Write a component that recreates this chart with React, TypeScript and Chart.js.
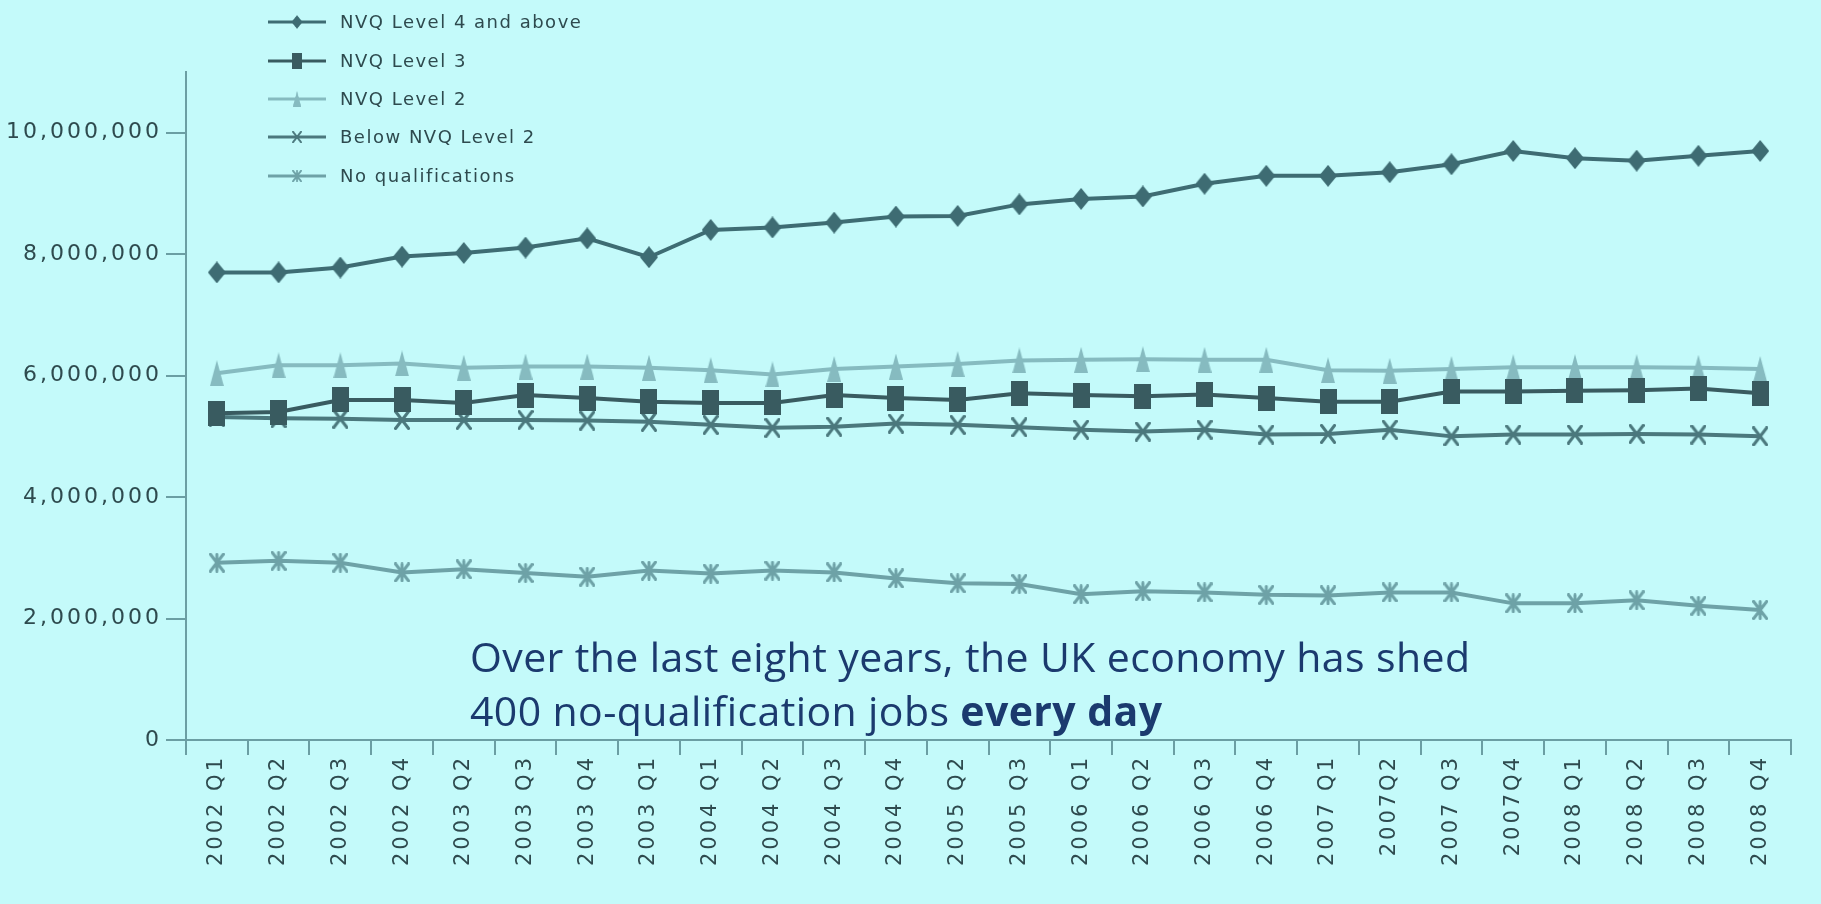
import React, { useEffect, useRef } from 'react';
import { Chart, registerables } from 'chart.js';

Chart.register(...registerables);

const quarters = [
  '2002 Q1', '2002 Q2', '2002 Q3', '2002 Q4', '2003 Q2', '2003 Q3', '2003 Q4', '2003 Q1',
  '2004 Q1', '2004 Q2', '2004 Q3', '2004 Q4', '2005 Q2', '2005 Q3', '2006 Q1', '2006 Q2',
  '2006 Q3', '2006 Q4', '2007 Q1', '2007Q2', '2007 Q3', '2007Q4', '2008 Q1', '2008 Q2',
  '2008 Q3', '2008 Q4',
];

const level4AndAbove = [
  7700000, 7700000, 7780000, 7960000, 8020000, 8110000, 8260000, 7950000, 8400000, 8440000,
  8520000, 8620000, 8630000, 8820000, 8910000, 8950000, 9160000, 9290000, 9290000, 9350000,
  9480000, 9700000, 9580000, 9540000, 9620000, 9700000,
];
const level3 = [
  5380000, 5400000, 5600000, 5600000, 5550000, 5680000, 5630000, 5570000, 5550000, 5550000,
  5680000, 5630000, 5600000, 5710000, 5680000, 5660000, 5690000, 5630000, 5570000, 5570000,
  5740000, 5740000, 5750000, 5760000, 5790000, 5710000,
];
const level2 = [
  6040000, 6170000, 6170000, 6200000, 6130000, 6150000, 6150000, 6130000, 6090000, 6020000,
  6110000, 6150000, 6190000, 6250000, 6260000, 6270000, 6260000, 6260000, 6090000, 6080000,
  6110000, 6140000, 6140000, 6140000, 6130000, 6110000,
];
const belowLevel2 = [
  5320000, 5300000, 5290000, 5270000, 5270000, 5270000, 5260000, 5240000, 5190000, 5140000,
  5160000, 5210000, 5190000, 5150000, 5110000, 5080000, 5110000, 5030000, 5040000, 5110000,
  5000000, 5030000, 5030000, 5040000, 5030000, 5000000,
];
const noQualifications = [
  2920000, 2950000, 2920000, 2760000, 2810000, 2750000, 2690000, 2790000, 2740000, 2790000,
  2760000, 2660000, 2580000, 2570000, 2400000, 2450000, 2430000, 2390000, 2380000, 2430000,
  2430000, 2250000, 2250000, 2300000, 2210000, 2140000,
];

const seriesNames = [
  'NVQ Level 4 and above',
  'NVQ Level 3',
  'NVQ Level 2',
  'Below NVQ Level 2',
  'No qualifications',
];

const yTickValues = [0, 2000000, 4000000, 6000000, 8000000, 10000000];

const annotationLine1 = 'Over the last eight years, the UK economy has shed';
const annotationLine2a = '400 no-qualification jobs ';
const annotationLine2b = 'every day';

const BG = '#c4fafa';
const AXIS = '#6b9ea3';
const TICK_TEXT = '#2e4a4e';

function makeMarker(shape: string, w: number, h: number, color: string, lw = 3): HTMLCanvasElement {
  const c = document.createElement('canvas');
  c.width = w;
  c.height = h;
  const g = c.getContext('2d')!;
  g.fillStyle = color;
  g.strokeStyle = color;
  g.lineWidth = lw;
  g.lineCap = 'round';
  g.beginPath();
  if (shape === 'diamond') {
    g.moveTo(w / 2, 0);
    g.lineTo(w, h / 2);
    g.lineTo(w / 2, h);
    g.lineTo(0, h / 2);
    g.closePath();
    g.fill();
  } else if (shape === 'rect') {
    g.fillRect(0, 0, w, h);
  } else if (shape === 'triangle') {
    g.moveTo(w / 2, 0);
    g.lineTo(w, h);
    g.lineTo(0, h);
    g.closePath();
    g.fill();
  } else if (shape === 'x') {
    const p = lw / 2;
    g.moveTo(p, p);
    g.lineTo(w - p, h - p);
    g.moveTo(w - p, p);
    g.lineTo(p, h - p);
    g.stroke();
  } else if (shape === 'star') {
    const p = lw / 2;
    g.moveTo(p, p);
    g.lineTo(w - p, h - p);
    g.moveTo(w - p, p);
    g.lineTo(p, h - p);
    g.moveTo(w / 2, p);
    g.lineTo(w / 2, h - p);
    g.stroke();
  }
  return c;
}

export default function App() {
  const canvasRef = useRef<HTMLCanvasElement | null>(null);

  useEffect(() => {
    const canvas = canvasRef.current;
    if (!canvas) return;

    const colors = ['#3e6c73', '#395b60', '#86bbc0', '#4b787d', '#6ea2a7'];
    const markers = [
      makeMarker('diamond', 18, 22, colors[0]),
      makeMarker('rect', 17, 25, colors[1]),
      makeMarker('triangle', 14, 26, colors[2]),
      makeMarker('x', 16, 20, colors[3], 3),
      makeMarker('star', 16, 20, colors[4], 3),
    ];
    const values = [level4AndAbove, level3, level2, belowLevel2, noQualifications];

    const overlay = {
      id: 'overlay',
      beforeDraw(chart: any) {
        (chart.ctx as any).letterSpacing = '3px';
      },
      afterDraw(chart: any) {
        const ctx = chart.ctx as CanvasRenderingContext2D;
        ctx.save();
        (ctx as any).letterSpacing = '1.5px';
        // legend
        const rows = [22, 61, 99, 137, 176];
        seriesNames.forEach((name, i) => {
          const y = rows[i];
          ctx.strokeStyle = colors[i];
          ctx.lineWidth = 3;
          ctx.beginPath();
          ctx.moveTo(268, y);
          ctx.lineTo(326, y);
          ctx.stroke();
          const m = markers[i];
          const s = 0.62;
          ctx.drawImage(m, 297 - (m.width * s) / 2, y - (m.height * s) / 2, m.width * s, m.height * s);
          ctx.fillStyle = TICK_TEXT;
          ctx.font = '18px "DejaVu Sans"';
          ctx.textBaseline = 'middle';
          ctx.textAlign = 'left';
          ctx.fillText(name, 340, y + 1);
        });
        // annotation
        (ctx as any).letterSpacing = '0.4px';
        ctx.fillStyle = '#1b3a6e';
        ctx.textBaseline = 'alphabetic';
        ctx.font = '41px "Open Sans"';
        ctx.fillText(annotationLine1, 470, 672);
        ctx.fillText(annotationLine2a, 470, 726);
        const w = ctx.measureText(annotationLine2a).width;
        ctx.font = 'bold 41px "Open Sans"';
        ctx.fillText(annotationLine2b, 470 + w, 726);
        ctx.restore();
      },
    };

    const chart = new Chart(canvas, {
      type: 'line',
      data: {
        labels: quarters,
        datasets: values.map((v, i) => ({
          label: seriesNames[i],
          data: v,
          borderColor: colors[i],
          backgroundColor: colors[i],
          borderWidth: 4,
          pointStyle: markers[i] as any,
          pointRadius: 9,
          pointHoverRadius: 9,
          tension: 0,
          fill: false,
        })),
      },
      options: {
        responsive: false,
        animation: false,
        events: [],
        layout: { padding: { left: 0, right: 30, top: 72, bottom: 0 } },
        plugins: {
          legend: { display: false },
          tooltip: { enabled: false },
          title: { display: false },
        },
        scales: {
          x: {
            type: 'category',
            offset: true,
            border: { display: true, color: AXIS, width: 2 },
            grid: {
              offset: true,
              drawOnChartArea: false,
              drawTicks: true,
              tickLength: 15,
              color: AXIS,
              lineWidth: 2,
            },
            ticks: {
              autoSkip: false,
              minRotation: 90,
              maxRotation: 90,
              padding: 0,
              color: TICK_TEXT,
              font: { family: '"DejaVu Sans"', size: 21 },
            },
            afterFit(scale: any) {
              scale.height = 164;
            },
          },
          y: {
            type: 'linear',
            min: 0,
            max: 11000000,
            border: { display: true, color: AXIS, width: 2 },
            grid: {
              drawOnChartArea: false,
              drawTicks: true,
              tickLength: 20,
              color: AXIS,
              lineWidth: 2,
            },
            ticks: {
              stepSize: 2000000,
              padding: 4,
              color: TICK_TEXT,
              font: { family: '"DejaVu Sans"', size: 22 },
              callback: (v: any) => Number(v).toLocaleString('en-US'),
            },
            afterBuildTicks(scale: any) {
              scale.ticks = yTickValues.map((value) => ({ value }));
            },
            afterFit(scale: any) {
              scale.width = 186;
            },
          },
        },
      },
      plugins: [overlay],
    });

    return () => chart.destroy();
  }, []);

  return (
    <div
      style={{
        position: 'fixed',
        left: 0,
        top: 0,
        width: 1821,
        height: 904,
        background: BG,
        overflow: 'hidden',
      }}
    >
      <canvas ref={canvasRef} width={1821} height={904} style={{ width: 1821, height: 904, display: 'block' }} />
    </div>
  );
}
